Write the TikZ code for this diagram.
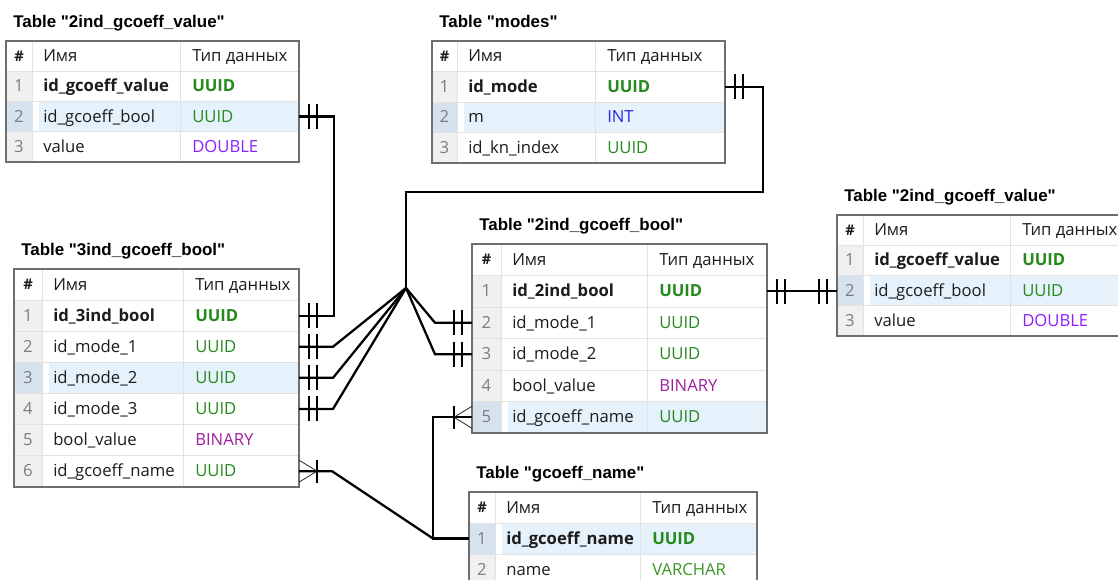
\documentclass[tikz,border=0pt]{standalone}
\usepackage{fontspec}
\setmainfont{Open Sans}
\newfontfamily\titlefont{Liberation Sans}
\usetikzlibrary{calc}

\definecolor{cborder}{RGB}{110,110,110}
\definecolor{cgrid}{RGB}{226,226,226}
\definecolor{cnumfill}{RGB}{240,240,240}
\definecolor{chl}{RGB}{229,241,251}
\definecolor{chlnum}{RGB}{214,226,238}
\definecolor{cnum}{RGB}{125,125,125}
\definecolor{ctext}{RGB}{28,28,28}
\definecolor{cuuid}{RGB}{36,138,28}
\definecolor{cint}{RGB}{40,40,230}
\definecolor{cdouble}{RGB}{140,30,255}
\definecolor{cbinary}{RGB}{160,30,160}
\definecolor{cvarchar}{RGB}{60,150,40}

\tikzset{
  border/.style={draw=cborder, line width=1.5pt},
  gridline/.style={draw=cgrid, line width=0.75pt},
  celltext/.style={inner sep=0pt, anchor=base west, font=\fontsize{12.5}{14}\selectfont, text=ctext},
  numtext/.style={inner sep=0pt, anchor=base, font=\fontsize{12.5}{14}\selectfont, text=cnum},
  titletext/.style={inner sep=0pt, anchor=base west, font=\titlefont\bfseries\fontsize{12.7}{14}\selectfont, text=black},
  rowbox/.style={inner sep=0pt, outer sep=0pt, anchor=north west},
  link/.style={draw=black, line width=1.7pt},
  tick/.style={draw=black, line width=1pt},
  fan/.style={draw=black!85, line width=0.6pt},
}

% #1 id, #2 L, #3 T, #4 A, #5 B, #6 R, #7 h, #8 title, #9 rows
\newcommand\erdtable[9]{%
  \node[titletext] (#1-title) at ({#2+7}, {#3-13.5}) {Table "#8"};
  \node[rowbox, minimum width={(#6-#2)*0.75pt}, minimum height={#7*0.75pt}] (#1-0) at (#2,#3) {};
  \fill[white] (#2,#3) rectangle (#6,{#3+#7});
  \node[numtext, text=ctext, font=\bfseries\fontsize{11}{13}\selectfont] (#1-0-n) at ({(#2+#4)/2}, {#3+#7/2+5}) {\#};
  \node[celltext] (#1-0-f) at ({#4+11}, {#3+#7/2+5.5}) {Имя};
  \node[celltext] (#1-0-t) at ({#5+12}, {#3+#7/2+5.5}) {Тип данных};
  \foreach \n/\fn/\ft/\fc/\fb/\hl [count=\i] in {#9} {
    \pgfmathsetmacro\rtop{#3+#7*\i}
    \pgfmathsetmacro\rbase{#3+#7*(\i+0.5)+5.5}
    \node[rowbox, minimum width={(#6-#2)*0.75pt}, minimum height={#7*0.75pt}] (#1-\i) at (#2,\rtop) {};
    \ifnum\hl=1
      \fill[chlnum] (#2,\rtop) rectangle (#4,{\rtop+#7});
      \fill[chl] ({#4+7},\rtop) rectangle (#6,{\rtop+#7});
    \else
      \fill[cnumfill] (#2,\rtop) rectangle (#4,{\rtop+#7});
    \fi
    \draw[gridline] (#2,\rtop) -- (#6,\rtop);
    \node[numtext] (#1-\i-n) at ({(#2+#4)/2}, \rbase) {\n};
    \node[celltext] (#1-\i-f) at ({#4+11}, \rbase) {\fb\fn};
    \node[celltext, text=\fc] (#1-\i-t) at ({#5+12}, \rbase) {\fb\ft};
    \xdef\erdlast{\i}
  }
  \pgfmathsetmacro\rbot{#3+#7*(\erdlast+1)}
  \draw[gridline] (#4,#3) -- (#4,\rbot);
  \draw[gridline] (#5,#3) -- (#5,\rbot);
  \draw[border] (#2,#3) rectangle (#6,\rbot);
}

% one-and-only-one mark: #1 point, #2 direction (1 right, -1 left)
\newcommand\onemark[2]{%
  \draw[tick] ($(#1)+(#2*10,-12.5)$) -- ($(#1)+(#2*10,12.5)$);
  \draw[tick] ($(#1)+(#2*18,-12.5)$) -- ($(#1)+(#2*18,12.5)$);
}
% many mark
\newcommand\manymark[2]{%
  \draw[fan] ($(#1)+(#2*18,0)$) -- ($(#1)+(0,-11)$);
  \draw[fan] ($(#1)+(#2*18,0)$) -- ($(#1)+(0,11)$);
  \draw[tick] ($(#1)+(#2*18,-11.5)$) -- ($(#1)+(#2*18,11.5)$);
}

\begin{document}
\begin{tikzpicture}[x=0.75pt,y=-0.75pt]
\useasboundingbox (0,0) rectangle (1118,579);
\fill[white] (0,0) rectangle (1118,579);
\clip (0,0) rectangle (1118,579);

\erdtable{gva}{6}{41}{32}{180}{299}{30.2}{2ind\_gcoeff\_value}{
  1/id\_gcoeff\_value/UUID/cuuid/\bfseries/0,
  2/id\_gcoeff\_bool/UUID/cuuid/\mdseries/1,
  3/value/DOUBLE/cdouble/\mdseries/0}

\erdtable{md}{432}{41}{457}{595}{725}{30.5}{modes}{
  1/id\_mode/UUID/cuuid/\bfseries/0,
  2/m/INT/cint/\mdseries/1,
  3/id\_kn\_index/UUID/cuuid/\mdseries/0}

\erdtable{bt}{14}{269}{42}{183}{299}{31.1}{3ind\_gcoeff\_bool}{
  1/id\_3ind\_bool/UUID/cuuid/\bfseries/0,
  2/id\_mode\_1/UUID/cuuid/\mdseries/0,
  3/id\_mode\_2/UUID/cuuid/\mdseries/1,
  4/id\_mode\_3/UUID/cuuid/\mdseries/0,
  5/bool\_value/BINARY/cbinary/\mdseries/0,
  6/id\_gcoeff\_name/UUID/cuuid/\mdseries/0}

\erdtable{bb}{472}{244}{501}{647}{767}{31.5}{2ind\_gcoeff\_bool}{
  1/id\_2ind\_bool/UUID/cuuid/\bfseries/0,
  2/id\_mode\_1/UUID/cuuid/\mdseries/0,
  3/id\_mode\_2/UUID/cuuid/\mdseries/0,
  4/bool\_value/BINARY/cbinary/\mdseries/0,
  5/id\_gcoeff\_name/UUID/cuuid/\mdseries/1}

\erdtable{gvb}{837}{215}{863}{1010}{1130}{30.2}{2ind\_gcoeff\_value}{
  1/id\_gcoeff\_value/UUID/cuuid/\bfseries/0,
  2/id\_gcoeff\_bool/UUID/cuuid/\mdseries/1,
  3/value/DOUBLE/cdouble/\mdseries/0}

\erdtable{gn}{469}{492}{495}{640}{757}{31}{gcoeff\_name}{
  1/id\_gcoeff\_name/UUID/cuuid/\bfseries/1,
  2/name/VARCHAR/cvarchar/\mdseries/0}

% connectors
\coordinate (hub) at (406,288);
\coordinate (mbend) at (763,192);

\draw[link] (gva-2.east) -| ($(bt-1.east)+(35,0)$) -- (bt-1.east);
\onemark{gva-2.east}{1}
\onemark{bt-1.east}{1}

\draw[link] (md-1.east) -| (mbend) -| (hub);
\onemark{md-1.east}{1}

\foreach \r in {2,3,4} {
  \draw[link] (hub) -- ($(bt-\r.east)+(34,0)$) -- (bt-\r.east);
  \onemark{bt-\r.east}{1}
}
\foreach \r in {2,3} {
  \draw[link] (hub) -- ($(bb-\r.west)+(-37,0)$) -- (bb-\r.west);
  \onemark{bb-\r.west}{-1}
}

\draw[link] (bb-1.east) -- (gvb-2.west |- bb-1.east);
\onemark{bb-1.east}{1}
\onemark{gvb-2.west |- bb-1.east}{-1}

\coordinate (bx) at ($(bb-5.west)+(-39,0)$);
\coordinate (gcorner) at (bx |- gn-1.west);
\draw[link] (bb-5.west) -- (bx) -- (gcorner) -- (gn-1.west);
\manymark{bb-5.west}{-1}
\draw[link] (bt-6.east) -- ($(bt-6.east)+(33,0)$) -- (gcorner);
\manymark{bt-6.east}{1}
\end{tikzpicture}
\end{document}
